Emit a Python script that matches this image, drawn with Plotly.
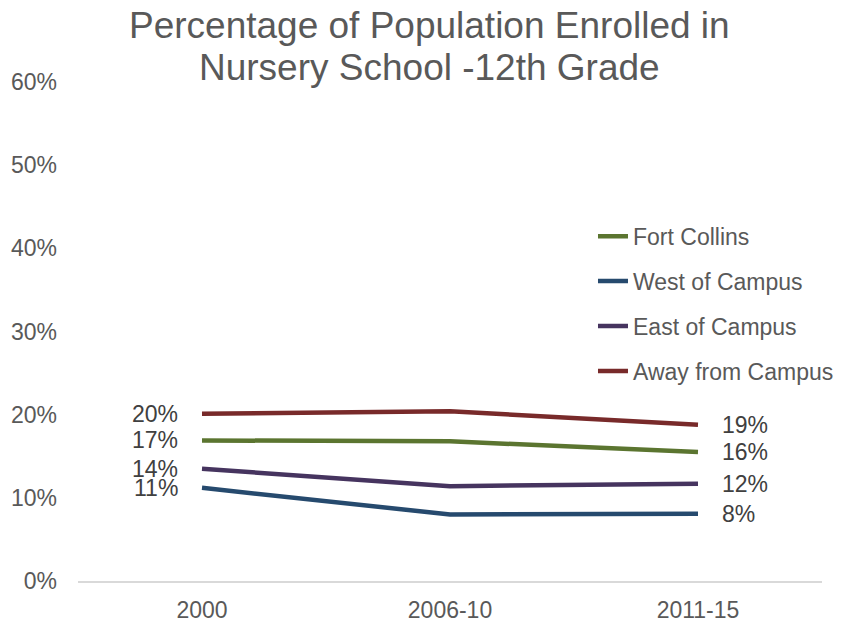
import plotly.graph_objects as go

# Survey periods on the category axis
periods = ["2000", "2006-10", "2011-15"]

# Share of population enrolled in nursery school through 12th grade
fort_collins = [0.169, 0.168, 0.155]
west_of_campus = [0.112, 0.080, 0.081]
east_of_campus = [0.135, 0.114, 0.117]
away_from_campus = [0.201, 0.204, 0.188]

series = [
    ("Fort Collins", fort_collins, "#5B7530"),
    ("West of Campus", west_of_campus, "#264A6E"),
    ("East of Campus", east_of_campus, "#46345F"),
    ("Away from Campus", away_from_campus, "#782A2A"),
]

title_lines = ["Percentage of Population Enrolled in", "Nursery School -12th Grade"]

FONT = "Liberation Sans, Arial, sans-serif"
GREY = "#595959"
LABEL = "#404040"
TXT = 23

fig = go.Figure()
for i, (name, vals, color) in enumerate(series):
    fig.add_trace(go.Scatter(
        x=periods, y=vals, name=name, mode="lines",
        line=dict(color=color, width=4.5),
        legendgroup=f"g{i}",
        hoverinfo="skip",
    ))

# End-point value labels: first period on the left, last period on the right
# (category positions given by index so numeric-looking names stay categories)
first, last = 0, len(periods) - 1
annotations = []
for name, vals, color in series:
    annotations.append(dict(
        x=first, y=vals[first], xref="x", yref="y",
        text=f"{round(vals[first] * 100):.0f}%", showarrow=False,
        xanchor="right", yanchor="middle", xshift=-22,
        font=dict(family=FONT, size=TXT, color=LABEL),
    ))
    annotations.append(dict(
        x=last, y=vals[last], xref="x", yref="y",
        text=f"{round(vals[last] * 100):.0f}%", showarrow=False,
        xanchor="left", yanchor="middle", xshift=22,
        font=dict(family=FONT, size=TXT, color=LABEL),
    ))

# Two-line chart title, set line by line for tighter leading
for line, ypos in zip(title_lines, [1.114, 1.030]):
    annotations.append(dict(
        x=0.473, y=ypos, xref="paper", yref="paper",
        text=line, showarrow=False,
        xanchor="center", yanchor="middle",
        font=dict(family=FONT, size=37, color=GREY),
    ))

fig.update_layout(
    width=844, height=623,
    margin=dict(l=78, r=22, t=82, b=42, autoexpand=False),
    paper_bgcolor="white", plot_bgcolor="white",
    font=dict(family=FONT, color=GREY, size=TXT),
    showlegend=True,
    legend=dict(
        xref="container", x=0.7026, xanchor="left",
        y=0.734, yanchor="top",
        font=dict(family=FONT, size=TXT, color=GREY),
        tracegroupgap=12, bgcolor="rgba(0,0,0,0)",
        traceorder="grouped",
    ),
    annotations=annotations,
    xaxis=dict(
        type="category", showgrid=False, zeroline=False,
        showline=True, linecolor="#D9D9D9", linewidth=1.5,
        ticks="", ticklabelstandoff=8, automargin=False,
        tickfont=dict(family=FONT, size=TXT, color=GREY),
        range=[-0.5, 2.5],
    ),
    yaxis=dict(
        range=[0, 0.6], dtick=0.1, tickformat=".0%",
        showgrid=False, zeroline=False, showline=False,
        ticks="", ticklabelstandoff=20, automargin=False,
        tickfont=dict(family=FONT, size=TXT, color=GREY),
    ),
)

fig.write_html("out.html")
